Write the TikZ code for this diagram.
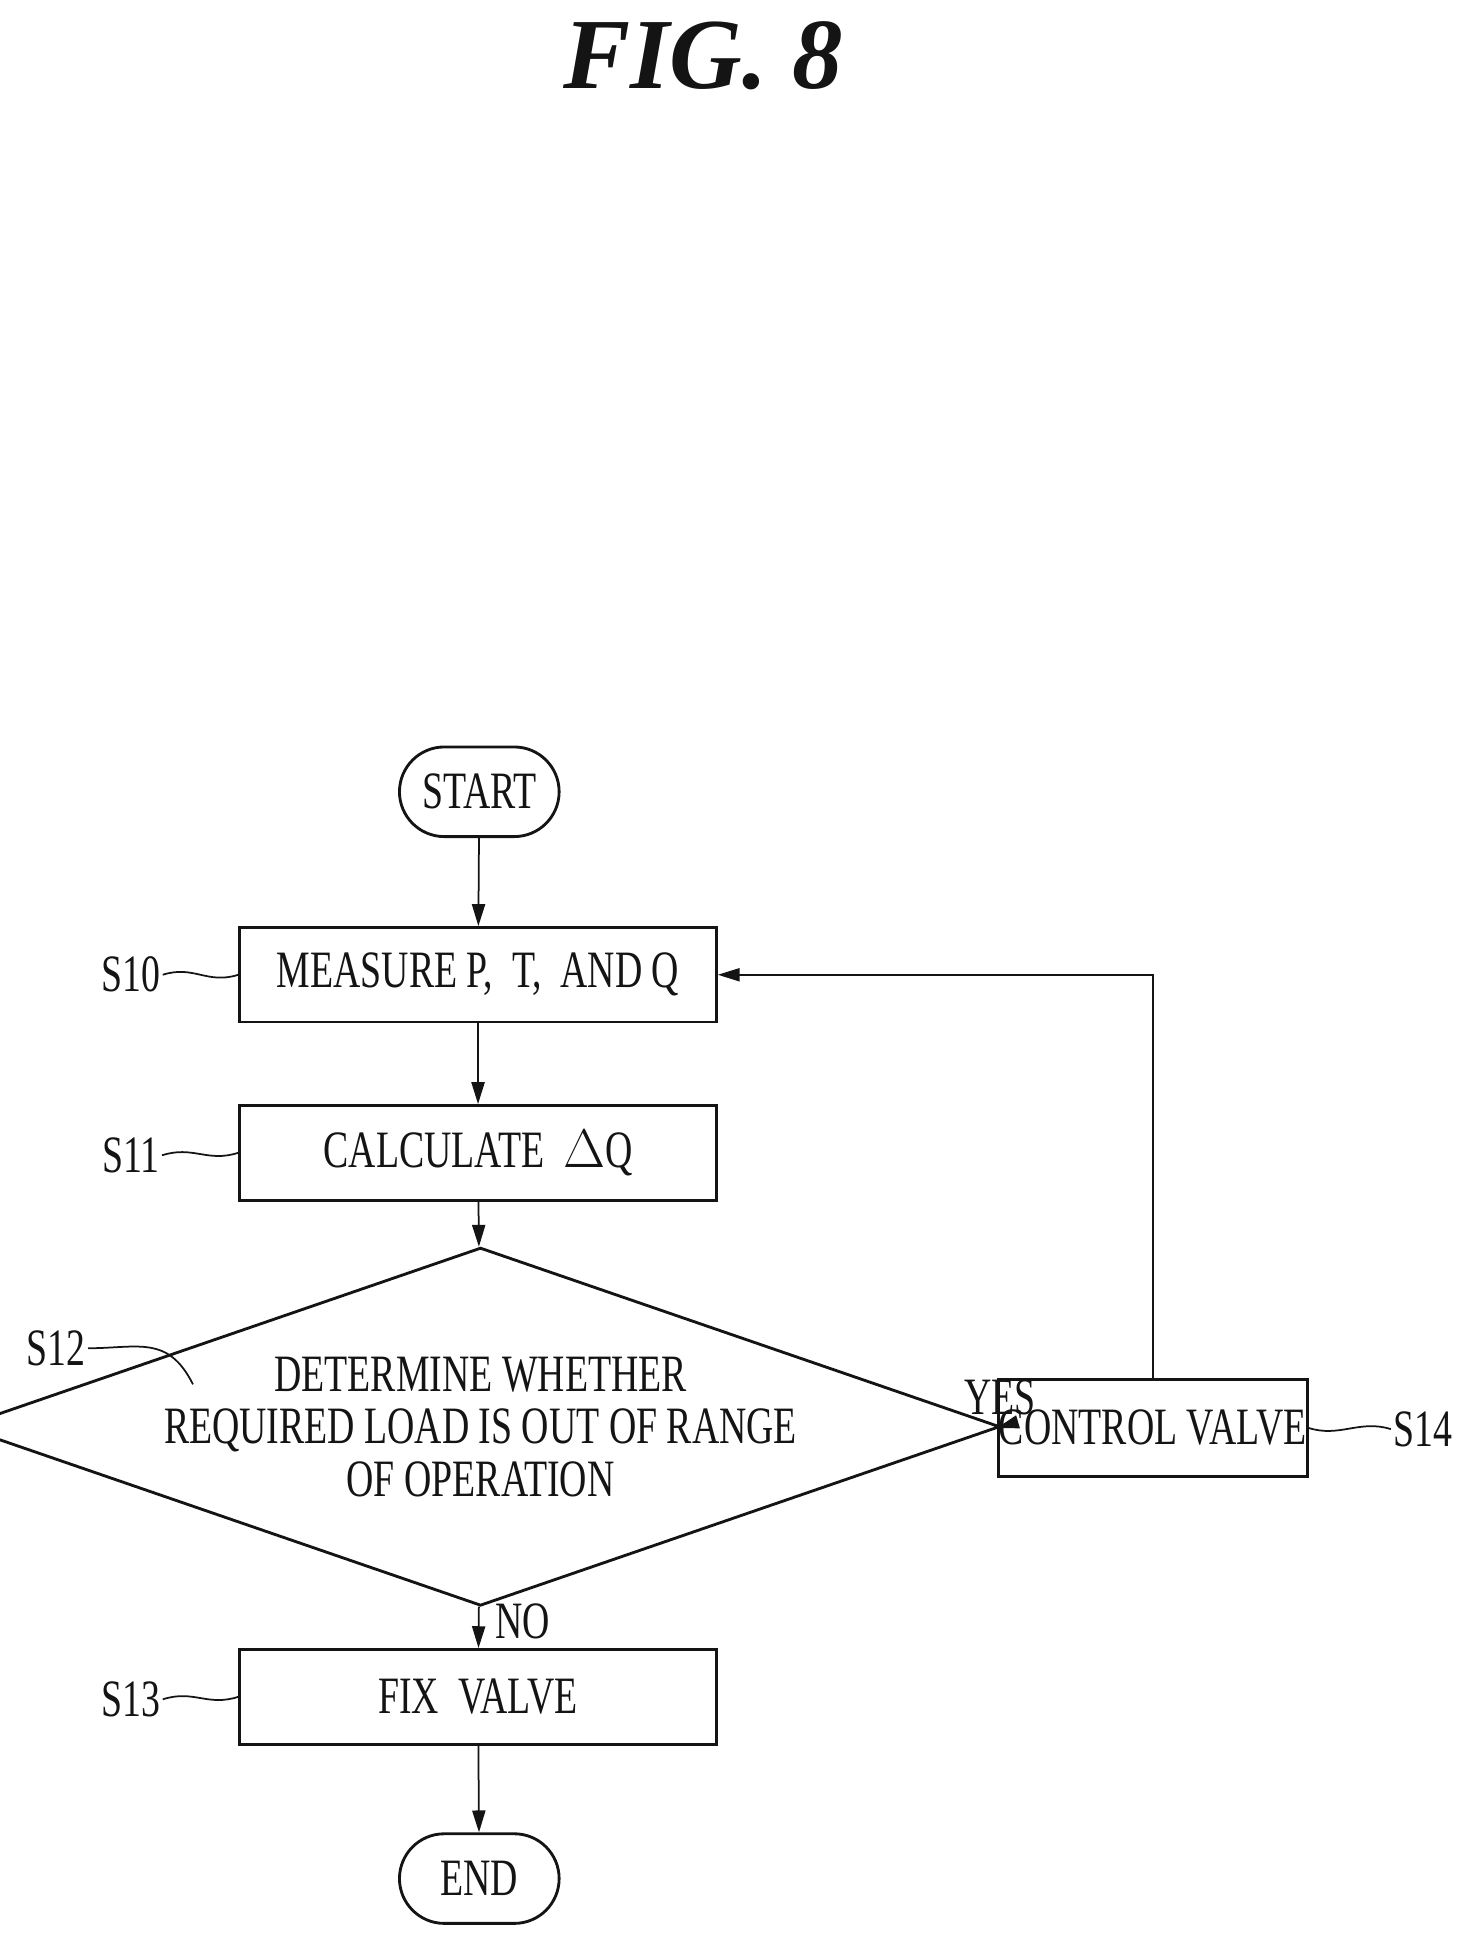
\documentclass[tikz,border=0pt]{standalone}
\usepackage{fontspec}
\setmainfont{Liberation Serif}[FakeStretch=0.72]
\newfontfamily\titlefont{Liberation Serif}
\usepackage{tikz}
\usetikzlibrary{shapes.geometric, shapes.misc, arrows.meta, positioning}
\definecolor{inkblack}{RGB}{20,20,20}

\begin{document}
\begin{tikzpicture}[
        x=0.02cm, y=-0.02cm,
        every node/.style={font=\fontsize{24}{28}\selectfont, text=inkblack},
        stepbox/.style={rectangle, draw=inkblack, line width=1.3pt, minimum width=7.66cm, minimum height=1.52cm, inner sep=0pt},
        term/.style={rounded rectangle, draw=inkblack, line width=1.3pt, minimum width=2.8cm, minimum height=1.44cm},
        decide/.style={diamond, draw=inkblack, line width=1.3pt, minimum width=12.74cm, minimum height=4.44cm, aspect=2.9, align=center, inner sep=0pt},
        steplabel/.style={inner sep=1pt},
        flow/.style={draw=inkblack, line width=0.8pt, -{Triangle[length=10pt, width=6pt]}},
        leader/.style={draw=inkblack, line width=0.8pt}
    ]
        \useasboundingbox (0,0) rectangle (1190,1572);
        \node[font=\titlefont\fontsize{46}{50}\selectfont\bfseries\itshape] (title) at (565,45) {FIG. 8};

        \node[term] (start) at (385,636) {START};
        \node[stepbox] (measure) at (384,783) {MEASURE P, \ T, \ AND Q};
        \node[stepbox] (calc) at (384,926) {CALCULATE \ $\Delta$Q};
        \node[decide] (check) at (386,1146) {DETERMINE WHETHER\\[-4pt]REQUIRED LOAD IS OUT OF RANGE\\[-4pt]OF OPERATION};
        \node[stepbox, minimum width=4.96cm, minimum height=1.56cm] (control) at (926,1147) {CONTROL VALVE};
        \node[stepbox] (fix) at (384,1363) {FIX \ VALVE};
        \node[term] (end) at (385,1509) {END};

        % step labels
        \node[steplabel] (s10) at (105,783) {S10};
        \node[steplabel] (s11) at (105,928) {S11};
        \node[steplabel] (s12) at (45,1083) {S12};
        \node[steplabel] (s13) at (105,1365) {S13};
        \node[steplabel] (s14) at (1143,1148) {S14};
        \draw[leader] (s10.east) .. controls +(25,-8) and +(-25,8) .. (measure.west);
        \draw[leader] (s11.east) .. controls +(25,-8) and +(-25,8) .. (calc.west);
        \draw[leader] (s13.east) .. controls +(25,-8) and +(-25,8) .. (fix.west);
        \draw[leader] (s14.west) .. controls +(-25,-8) and +(25,8) .. (control.east);
        \coordinate (s12tip) at (155,1112);
        \draw[leader] (s12.east) .. controls +(40,0) and +(-20,-40) .. (s12tip);

        % connectors
        \draw[flow] (start) -- (measure);
        \draw[flow] (measure) -- (calc);
        \draw[flow] (calc) -- (check);
        \draw[flow] (check) -- node[right, pos=0.35, xshift=4pt] (no) {NO} (fix);
        \draw[flow] (fix) -- (end);
        \draw[flow] (check.east) -- node[above, pos=0.3, yshift=2pt] (yes) {YES} (control.west);
        \draw[flow] (control.north) |- (measure.east);
\end{tikzpicture}
\end{document}
